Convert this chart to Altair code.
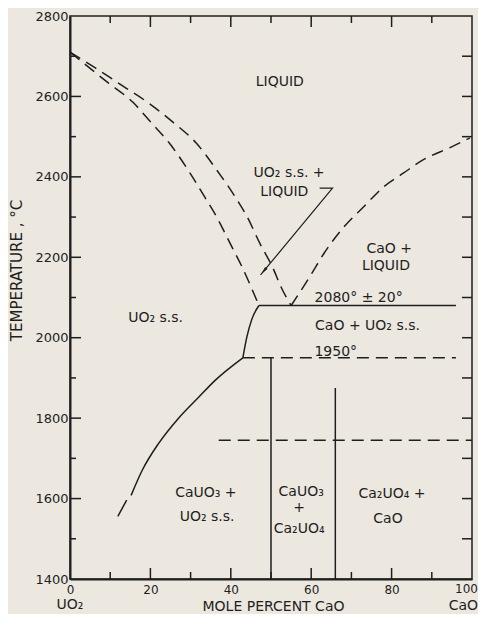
import altair as alt
import pandas as pd

# ---------------- values ----------------
# UO2-side solidus (dashed)
solidus_x = [0, 9.6, 15.6, 20.1, 24.7, 29.7, 33.5, 36.5, 39.8, 42.8, 47.0]
solidus_T = [2710, 2633, 2586, 2536, 2484, 2412, 2350, 2300, 2235, 2176, 2080]
# UO2-side liquidus (dashed)
liquidus_x = [0, 6.3, 13.1, 19.5, 25.6, 31.4, 36.5, 41.6, 44.1, 47.2, 50.5, 52.5, 55.0]
liquidus_T = [2710, 2671, 2626, 2584, 2536, 2484, 2417, 2342, 2300, 2235, 2173, 2126, 2080]
# CaO liquidus (dashed)
cao_liq_x = [55.0, 59.6, 63.2, 68.1, 73.0, 78.0, 82.9, 87.8, 94.8, 99.5]
cao_liq_T = [2080, 2151, 2210, 2275, 2325, 2375, 2409, 2442, 2474, 2497]
# UO2 s.s. boundary above 1950 (solid)
ss_upper_x = [43.0, 44.0, 45.2, 47.0]
ss_upper_T = [1950, 2002, 2045, 2080]
# UO2 s.s. boundary below 1950 (solid)
ss_lower_x = [15.2, 18.0, 22.1, 27.0, 32.0, 36.1, 43.0]
ss_lower_T = [1608, 1671, 1738, 1800, 1852, 1894, 1950]
# extrapolated end of the boundary
ss_ext_x = [11.9, 14.1]
ss_ext_T = [1556, 1596]

# isotherms and compound lines
solid_h_x = [47]
solid_h_x2 = [96]
solid_h_T = [2080]
dashed_h_x = [43, 37]
dashed_h_x2 = [96, 100]
dashed_h_T = [1950, 1745]
vert_x = [50, 66]
vert_T_top = [1950, 1875]

# pointer from the "UO2 s.s. + LIQUID" label
pointer_x = [62.1, 65.3, 47.4]
pointer_T = [2372, 2372, 2156]
pointer_head_x = [48.3]
pointer_head_T = [2167]

# field labels
label_text = ["LIQUID", "UO\u2082 s.s. +", "LIQUID", "CaO +", "LIQUID",
              "2080\u00b0 \u00b1 20\u00b0", "CaO + UO\u2082 s.s.", "1950\u00b0",
              "UO\u2082 s.s.", "CaUO\u2083 +", "UO\u2082 s.s.",
              "CaUO\u2083", "+", "Ca\u2082UO\u2084", "Ca\u2082UO\u2084 +", "CaO"]
label_x = [52.2, 54.5, 53.3, 79.4, 78.6, 71.8, 74.0, 66.1,
           21.3, 33.8, 34.1, 57.5, 57.0, 57.0, 80.1, 79.1]
label_T = [2636, 2409, 2362, 2220, 2178, 2099, 2029, 1964,
           2049, 1613, 1554, 1616, 1576, 1524, 1611, 1549]

# axis ticks and labels
x_tick_labels = [0, 20, 40, 60, 80]
x_last_label = [100]
y_tick_labels = [1400, 1600, 1800, 2000, 2200, 2400, 2600, 2800]
x_major_ticks = [20, 40, 60, 80]
x_minor_ticks = [10, 30, 50, 70, 90]
y_major_ticks = [1600, 1800, 2000, 2200, 2400, 2600]
y_minor_ticks = [1500, 1700, 1900, 2100, 2300, 2500, 2700]
end_left_label = ["UO\u2082"]
end_right_label = ["CaO"]

# ---------------- styling ----------------
INK = "#1e1e1e"
BG = "#ece8df"
FONT = "DejaVu Sans"
X_MIN, X_MAX = 0, 100
T_MIN, T_MAX = 1400, 2800

xs = alt.Scale(domain=[X_MIN, X_MAX], nice=False, zero=False)
ys = alt.Scale(domain=[T_MIN, T_MAX], nice=False, zero=False)
x_axis = alt.Axis(values=x_tick_labels, ticks=False, grid=False, domain=True, format="d",
                  domainColor=INK, domainWidth=2, labelColor=INK, labelFont=FONT,
                  labelFontSize=12, labelPadding=5, title="MOLE PERCENT CaO",
                  titleFont=FONT, titleFontSize=14, titleFontWeight="normal",
                  titleColor=INK, titleX=203, titleY=31, titleAlign="center",
                  titleBaseline="alphabetic", labelFlush=False)
y_axis = alt.Axis(values=y_tick_labels, ticks=False, grid=False, domain=True, format="d",
                  domainColor=INK, domainWidth=2, labelColor=INK, labelFont=FONT,
                  labelFontSize=13, labelPadding=2, title="TEMPERATURE , \u00b0C",
                  titleFont=FONT, titleFontSize=15, titleFontWeight="normal",
                  titleColor=INK, titleAngle=270, titleX=-54, titleY=254,
                  titleAlign="center", titleBaseline="middle", labelFlush=False)


def X(field="x"):
    return alt.X(f"{field}:Q", scale=xs, axis=x_axis)


def Y(field="T"):
    return alt.Y(f"{field}:Q", scale=ys, axis=y_axis)


def curve_df(names_xs_ts):
    rows = []
    for name, cx, ct in names_xs_ts:
        for i, (a, b) in enumerate(zip(cx, ct)):
            rows.append({"curve": name, "seq": i, "x": a, "T": b})
    return pd.DataFrame(rows)


dashed_curves = curve_df([("solidus", solidus_x, solidus_T),
                          ("liquidus", liquidus_x, liquidus_T),
                          ("cao_liquidus", cao_liq_x, cao_liq_T)])
solid_curves = curve_df([("upper", ss_upper_x, ss_upper_T),
                         ("lower", ss_lower_x, ss_lower_T),
                         ("ext", ss_ext_x, ss_ext_T)])

dash_layer = alt.Chart(dashed_curves).mark_line(
    color=INK, strokeWidth=1.5, strokeDash=[12, 7], interpolate="monotone"
).encode(x=X(), y=Y(), detail="curve:N", order=alt.Order("seq:Q"))

solid_layer = alt.Chart(solid_curves).mark_line(
    color=INK, strokeWidth=1.5, interpolate="monotone"
).encode(x=X(), y=Y(), detail="curve:N", order=alt.Order("seq:Q"))

solid_h = alt.Chart(pd.DataFrame({"x": solid_h_x, "x2": solid_h_x2, "T": solid_h_T})).mark_rule(
    color=INK, strokeWidth=1.5
).encode(x=X(), x2=alt.X2("x2:Q"), y=Y())

dashed_h = alt.Chart(pd.DataFrame({"x": dashed_h_x, "x2": dashed_h_x2, "T": dashed_h_T})).mark_rule(
    color=INK, strokeWidth=1.5, strokeDash=[12, 7]
).encode(x=X(), x2=alt.X2("x2:Q"), y=Y())

verts = alt.Chart(pd.DataFrame({"x": vert_x, "T": [T_MIN] * len(vert_x), "T2": vert_T_top})).mark_rule(
    color=INK, strokeWidth=1.5
).encode(x=X(), y=Y(), y2=alt.Y2("T2:Q"))

pointer = alt.Chart(pd.DataFrame({"x": pointer_x, "T": pointer_T, "seq": range(len(pointer_x))})).mark_line(
    color=INK, strokeWidth=1.2
).encode(x=X(), y=Y(), order=alt.Order("seq:Q"))

pointer_head = alt.Chart(pd.DataFrame({"x": pointer_head_x, "T": pointer_head_T})).mark_point(
    shape="M0,-1L0.38,0.8L-0.38,0.8Z", filled=True, color=INK, opacity=1, size=70, angle=220
).encode(x=X(), y=Y())

labels = alt.Chart(pd.DataFrame({"x": label_x, "T": label_T, "t": label_text})).mark_text(
    font=FONT, fontSize=14, color=INK, align="center", baseline="middle"
).encode(x=X(), y=Y(), text="t:N")

last_tick_label = alt.Chart(pd.DataFrame({"x": x_last_label, "T": [T_MIN] * len(x_last_label),
                                          "t": [str(v) for v in x_last_label]})).mark_text(
    font=FONT, fontSize=12, color=INK, align="right", baseline="top", dy=5, dx=6
).encode(x=X(), y=Y(), text="t:N")

end_lab_left = alt.Chart(pd.DataFrame({"x": [X_MIN], "T": [T_MIN], "t": end_left_label})).mark_text(
    font=FONT, fontSize=14, color=INK, align="center", baseline="alphabetic", dy=30
).encode(x=X(), y=Y(), text="t:N")

end_lab_right = alt.Chart(pd.DataFrame({"x": [X_MAX], "T": [T_MIN], "t": end_right_label})).mark_text(
    font=FONT, fontSize=14, color=INK, align="right", baseline="alphabetic", dy=31, dx=6
).encode(x=X(), y=Y(), text="t:N")


def tick_layer(vals, fixed, axis_is_x, length, direction):
    if axis_is_x:
        df = pd.DataFrame({"x": vals, "T": [fixed] * len(vals)})
        return alt.Chart(df).mark_rule(color=INK, strokeWidth=1.5, y2Offset=direction * length).encode(
            x=X(), y=Y(), y2=alt.Y2("T:Q"))
    df = pd.DataFrame({"x": [fixed] * len(vals), "T": vals})
    return alt.Chart(df).mark_rule(color=INK, strokeWidth=1.5, x2Offset=direction * length).encode(
        x=X(), x2=alt.X2("x:Q"), y=Y())


ticks = [
    tick_layer(x_major_ticks, T_MIN, True, 11, -1),
    tick_layer(x_minor_ticks, T_MIN, True, 7, -1),
    tick_layer(x_major_ticks, T_MAX, True, 11, 1),
    tick_layer(x_minor_ticks, T_MAX, True, 7, 1),
    tick_layer(y_major_ticks, X_MIN, False, 11, 1),
    tick_layer(y_minor_ticks, X_MIN, False, 6, 1),
    tick_layer(y_major_ticks + y_minor_ticks, X_MAX, False, 10, -1),
]

chart = alt.layer(
    dash_layer, solid_layer, solid_h, dashed_h, verts, pointer, pointer_head,
    labels, last_tick_label, end_lab_left, end_lab_right, *ticks
).properties(
    width=402, height=563, background=BG,
    padding={"left": 62, "top": 8, "right": 6, "bottom": 35},
    autosize=alt.AutoSizeParams(type="none"),
).configure_view(stroke=INK, strokeWidth=1.5, fill=BG)

chart.save("out.html", embed_options={"renderer": "svg", "actions": False})
